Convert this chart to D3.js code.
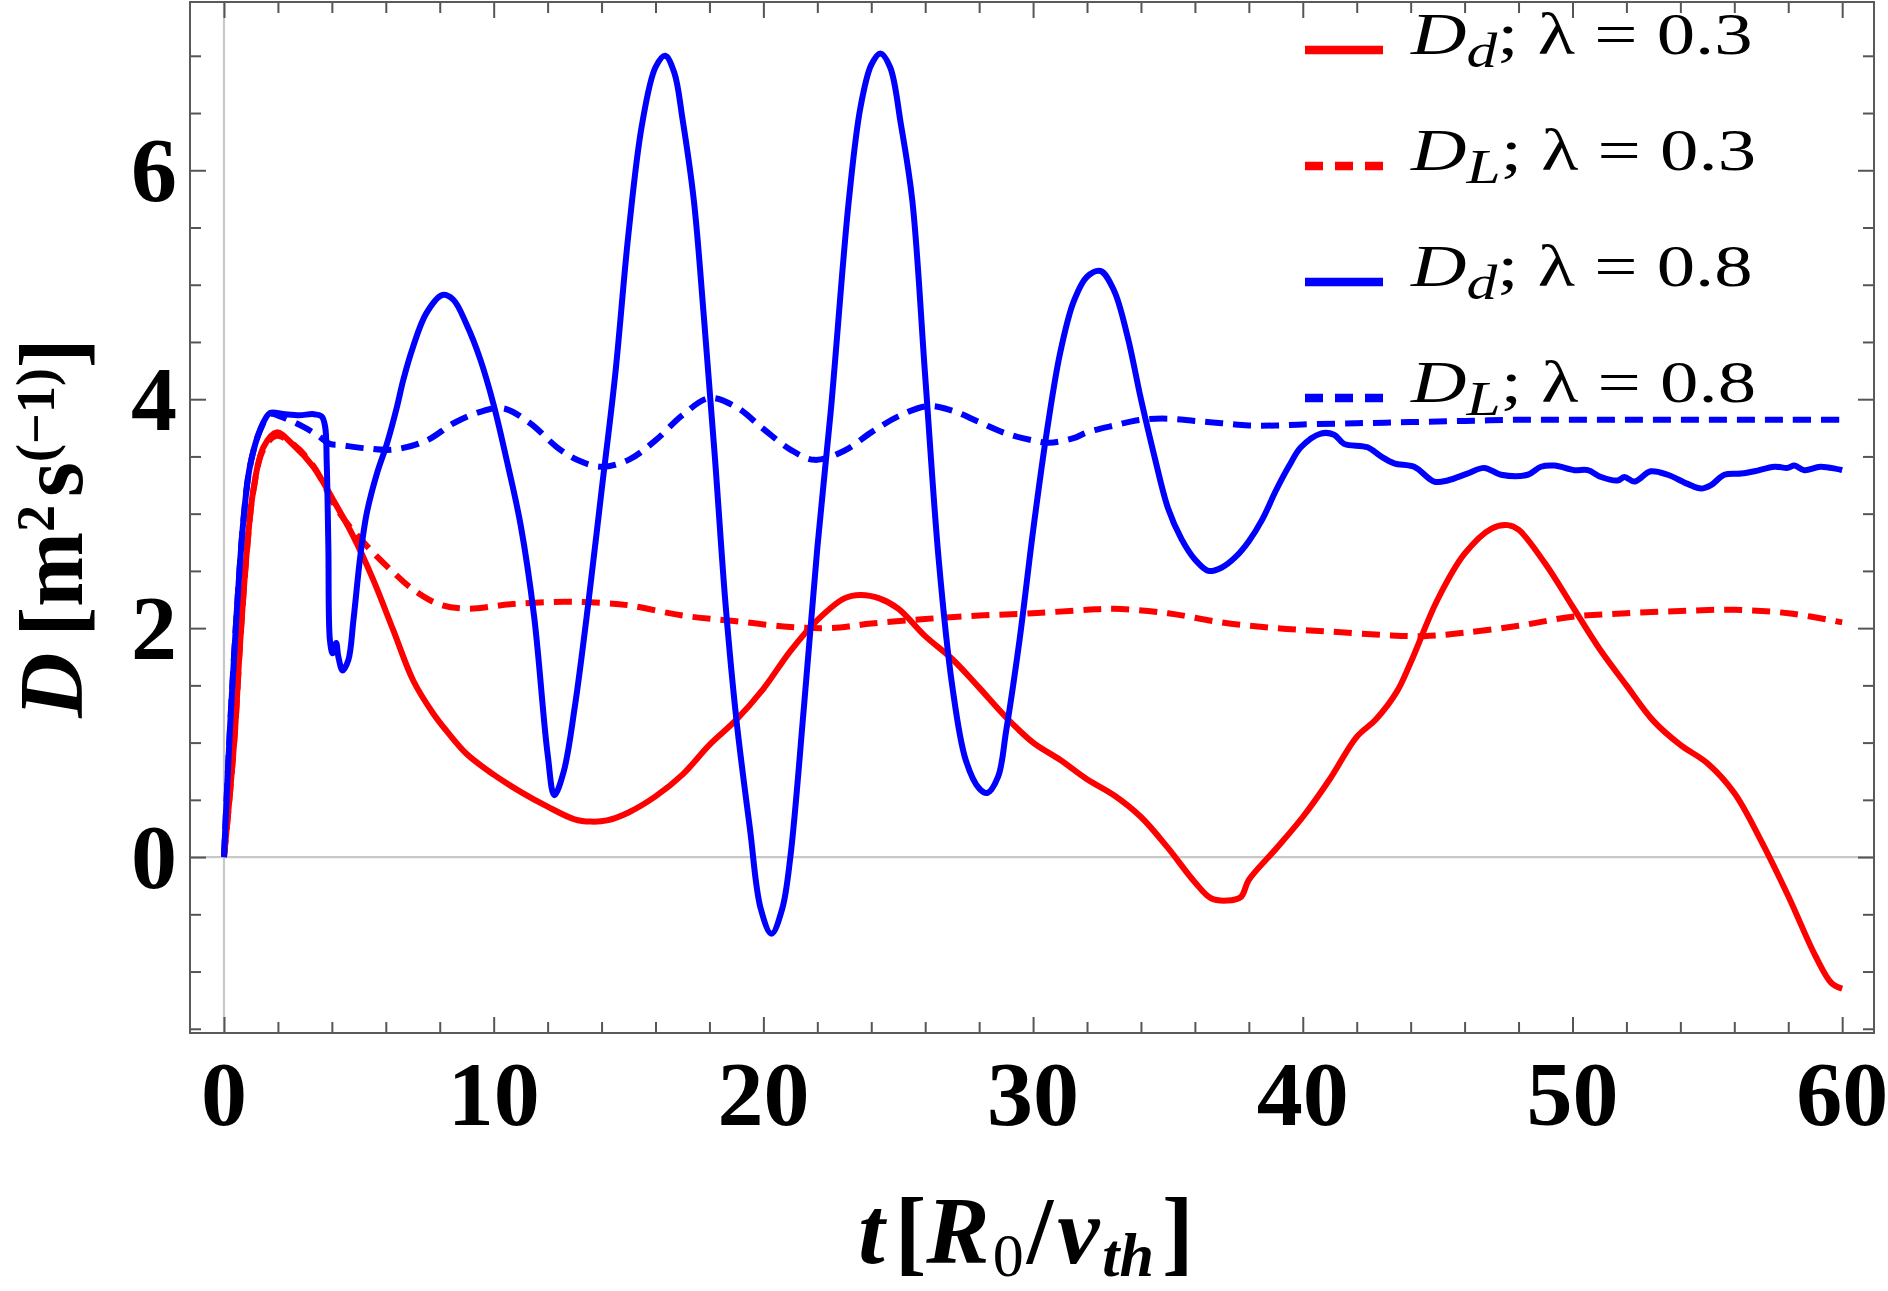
<!DOCTYPE html>
<html>
<head>
<meta charset="utf-8">
<script src="https://cdn.jsdelivr.net/npm/d3@7"></script>
<style>
  body { margin: 0; background: #fff; }
  svg { display: block; }
</style>
</head>
<body>
<svg id="chart" width="1888" height="1291"></svg>
<script>
// D_d, lambda = 0.3  [t, D]
const dd03 = [[0,0],[0.2,0.5],[0.41,1.11],[0.59,1.84],[0.84,2.65],[1.09,3.21],[1.46,3.58],[1.95,3.71],[2.57,3.6],[3.31,3.41],[4.05,3.12],[4.8,2.8],[5.54,2.42],[6.28,1.98],[7.02,1.54],[7.77,1.25],[8.26,1.1],[9,0.9],[10,0.72],[11,0.57],[12,0.44],[13,0.33],[13.6,0.31],[14.2,0.32],[15,0.39],[16,0.53],[17,0.72],[18,0.98],[19,1.2],[20,1.47],[21,1.8],[22,2.07],[23,2.26],[23.6,2.29],[24.3,2.26],[25,2.17],[26,1.93],[27,1.73],[28,1.48],[29,1.22],[30,1.0],[31,0.85],[32,0.68],[33,0.54],[34,0.35],[35,0.08],[36,-0.22],[36.6,-0.36],[37.2,-0.38],[37.7,-0.35],[38,-0.2],[39,0.07],[40,0.35],[41,0.68],[42,1.05],[42.7,1.2],[43.5,1.45],[44,1.7],[45,2.25],[46,2.65],[47,2.87],[47.6,2.9],[48,2.86],[49,2.56],[50,2.19],[51,1.82],[52,1.5],[53,1.19],[54,0.98],[55,0.82],[56,0.56],[57,0.14],[58,-0.34],[59,-0.86],[59.6,-1.1],[60,-1.15]];

// D_L, lambda = 0.3
const dl03 = [[0,0],[0.2,0.5],[0.41,1.11],[0.59,1.84],[0.84,2.65],[1.09,3.2],[1.46,3.56],[1.95,3.68],[2.6,3.6],[3.3,3.42],[4.3,3.0],[5.29,2.72],[6.27,2.49],[7.0,2.34],[7.96,2.21],[9.0,2.17],[10.7,2.21],[12.6,2.23],[14,2.22],[15,2.2],[17,2.11],[19,2.06],[21,2.01],[22.5,2.0],[24,2.04],[26,2.08],[28,2.11],[30,2.13],[32,2.16],[33,2.17],[35,2.13],[37,2.05],[39,2.0],[41,1.97],[43,1.94],[44.5,1.93],[46,1.96],[48,2.02],[50,2.1],[52,2.13],[54,2.15],[56,2.16],[58,2.13],[60,2.05]];

// D_d, lambda = 0.8
const dd08 = [[0,0],[0.22,1.11],[0.47,2.13],[0.72,2.94],[0.96,3.41],[1.34,3.73],[1.71,3.88],[2.2,3.87],[2.8,3.86],[3.3,3.87],[3.62,3.85],[3.75,3.76],[3.81,3.44],[3.87,2.71],[3.93,1.89],[4.03,1.78],[4.16,1.87],[4.24,1.75],[4.4,1.63],[4.61,1.72],[4.8,2.07],[5.05,2.62],[5.29,3.0],[5.67,3.35],[6.04,3.61],[6.41,3.93],[6.65,4.17],[7,4.45],[7.5,4.75],[8.1,4.91],[8.5,4.87],[9,4.65],[9.5,4.35],[10,3.95],[10.5,3.45],[11,2.9],[11.5,2.1],[12,0.9],[12.25,0.54],[12.6,0.75],[13,1.3],[13.5,2.2],[14,3.2],[14.5,4.2],[15,5.45],[15.5,6.4],[16,6.9],[16.36,7.0],[16.7,6.85],[17,6.45],[17.42,5.74],[17.8,4.7],[18.2,3.5],[18.6,2.2],[19,1.2],[19.5,0.25],[19.9,-0.45],[20.3,-0.67],[20.7,-0.45],[21,0.0],[21.5,1.3],[22,2.7],[22.5,3.9],[23.17,5.74],[23.6,6.55],[24,6.92],[24.34,7.02],[24.7,6.9],[25.1,6.4],[25.52,5.74],[26,4.2],[26.5,2.6],[27,1.5],[27.5,0.85],[28,0.6],[28.3,0.56],[28.7,0.7],[29,1.1],[29.5,1.9],[30,2.85],[30.5,3.7],[31,4.4],[31.5,4.85],[32,5.07],[32.5,5.12],[33,4.95],[33.5,4.55],[34,4.0],[34.5,3.5],[35,3.05],[35.5,2.78],[36,2.6],[36.5,2.5],[37,2.53],[37.5,2.62],[38,2.76],[38.5,2.95],[39,3.2],[39.5,3.42],[39.93,3.58],[40.67,3.7],[41.16,3.69],[41.53,3.61],[42.4,3.58],[42.9,3.5],[43.39,3.44],[44.13,3.41],[44.87,3.28],[45.37,3.29],[46.1,3.35],[46.73,3.4],[47.35,3.34],[48.34,3.34],[48.83,3.41],[49.33,3.42],[50.07,3.38],[50.57,3.38],[51.06,3.32],[51.68,3.29],[51.93,3.32],[52.3,3.28],[52.9,3.37],[53.53,3.34],[54.27,3.26],[54.77,3.22],[55.14,3.25],[55.63,3.34],[56.25,3.35],[56.75,3.37],[57.49,3.41],[57.98,3.4],[58.23,3.42],[58.6,3.38],[59.2,3.41],[60,3.38]];

// D_L, lambda = 0.8
const dl08 = [[0,0],[0.22,1.11],[0.47,2.13],[0.72,2.94],[0.96,3.41],[1.34,3.73],[1.71,3.87],[2.08,3.85],[2.93,3.76],[3.44,3.69],[3.93,3.61],[4.3,3.6],[5.29,3.57],[6.28,3.56],[7.52,3.64],[8.51,3.79],[9.5,3.89],[10.36,3.92],[11.35,3.79],[12.35,3.58],[13.09,3.47],[14,3.41],[15,3.47],[16,3.64],[17,3.86],[18,4.01],[19,3.93],[20,3.74],[21,3.56],[21.9,3.47],[23,3.55],[24,3.71],[25,3.85],[26.1,3.94],[27,3.9],[28,3.8],[29,3.7],[30,3.64],[30.6,3.62],[31.5,3.66],[32,3.71],[33,3.77],[34,3.82],[35,3.83],[36,3.81],[37,3.79],[38,3.77],[39,3.77],[40,3.78],[42,3.79],[44,3.8],[46,3.81],[48,3.82],[50,3.82],[52,3.82],[54,3.82],[56,3.82],[58,3.82],[60,3.82]];

const xTicks = [0, 10, 20, 30, 40, 50, 60];
const yTicks = [0, 2, 4, 6];
const legendSub = ['d', 'L', 'd', 'L'];
const legendLambda = ['0.3', '0.3', '0.8', '0.8'];

const serif = '"Liberation Serif", "Times New Roman", serif';
const frame = { left: 190, right: 1874, top: 2, bottom: 1033 };

const svg = d3.select('#chart');

const x = d3.scaleLinear().domain([-1.26, 61.18]).range([frame.left, frame.right]);
const y = d3.scaleLinear().domain([-1.537, 7.47]).range([frame.bottom, frame.top]);

const xMinor = d3.range(2, 60, 2).filter((d) => d % 10 !== 0);
const yMinor = d3.range(-1.5, 7.01, 0.5).filter((d) => d % 2 !== 0);

svg.append('defs')
  .append('clipPath')
  .attr('id', 'plotClip')
  .append('rect')
  .attr('x', frame.left)
  .attr('y', frame.top)
  .attr('width', frame.right - frame.left)
  .attr('height', frame.bottom - frame.top);

// zero axes (light gray)
svg.append('line')
  .attr('x1', x(0)).attr('x2', x(0))
  .attr('y1', frame.top).attr('y2', frame.bottom)
  .attr('stroke', '#c8c8c8').attr('stroke-width', 2.2);
svg.append('line')
  .attr('x1', frame.left).attr('x2', frame.right)
  .attr('y1', y(0)).attr('y2', y(0))
  .attr('stroke', '#c8c8c8').attr('stroke-width', 2.2);

// frame ticks (pointing inward)
const tickColor = '#555';
function styleAxis(g) {
  g.select('.domain').remove();
  g.selectAll('.tick line').attr('stroke', tickColor).attr('stroke-width', 2);
  g.selectAll('.tick text').remove();
}

svg.append('g').attr('transform', `translate(0,${frame.bottom})`)
  .call(d3.axisBottom(x).tickValues(xTicks).tickSize(-16)).call(styleAxis);
svg.append('g').attr('transform', `translate(0,${frame.bottom})`)
  .call(d3.axisBottom(x).tickValues(xMinor).tickSize(-11)).call(styleAxis);
svg.append('g').attr('transform', `translate(0,${frame.top})`)
  .call(d3.axisTop(x).tickValues(xTicks).tickSize(-16)).call(styleAxis);
svg.append('g').attr('transform', `translate(0,${frame.top})`)
  .call(d3.axisTop(x).tickValues(xMinor).tickSize(-11)).call(styleAxis);
svg.append('g').attr('transform', `translate(${frame.left},0)`)
  .call(d3.axisLeft(y).tickValues(yTicks).tickSize(-16)).call(styleAxis);
svg.append('g').attr('transform', `translate(${frame.left},0)`)
  .call(d3.axisLeft(y).tickValues(yMinor).tickSize(-11)).call(styleAxis);
svg.append('g').attr('transform', `translate(${frame.right},0)`)
  .call(d3.axisRight(y).tickValues(yTicks).tickSize(-16)).call(styleAxis);
svg.append('g').attr('transform', `translate(${frame.right},0)`)
  .call(d3.axisRight(y).tickValues(yMinor).tickSize(-11)).call(styleAxis);

svg.append('rect')
  .attr('x', frame.left).attr('y', frame.top)
  .attr('width', frame.right - frame.left)
  .attr('height', frame.bottom - frame.top)
  .attr('fill', 'none')
  .attr('stroke', '#5a5a5a')
  .attr('stroke-width', 2);

// tick labels
svg.append('g')
  .selectAll('text')
  .data(xTicks)
  .join('text')
  .attr('x', (d) => x(d))
  .attr('y', 1125)
  .attr('text-anchor', 'middle')
  .attr('font-family', serif)
  .attr('font-weight', 'bold')
  .attr('font-size', 92)
  .text((d) => d);

svg.append('g')
  .selectAll('text')
  .data(yTicks)
  .join('text')
  .attr('x', 177)
  .attr('y', (d) => y(d) + 31)
  .attr('text-anchor', 'end')
  .attr('font-family', serif)
  .attr('font-weight', 'bold')
  .attr('font-size', 92)
  .text((d) => d);

// curves
const line = d3.line()
  .x((d) => x(d[0]))
  .y((d) => y(d[1]))
  .curve(d3.curveCatmullRom.alpha(0.5));

const series = [
  { data: dd03, color: '#ff0000', dash: null },
  { data: dl03, color: '#ff0000', dash: '18,10' },
  { data: dd08, color: '#0000ff', dash: null },
  { data: dl08, color: '#0000ff', dash: '18,10' },
];

const plot = svg.append('g').attr('clip-path', 'url(#plotClip)');
// dashed first, solid on top
[1, 3, 0, 2].forEach((i) => {
  const s = series[i];
  plot.append('path')
    .datum(s.data)
    .attr('d', line)
    .attr('fill', 'none')
    .attr('stroke', s.color)
    .attr('stroke-width', 6)
    .attr('stroke-linejoin', 'round')
    .attr('stroke-dasharray', s.dash);
});

// legend
const legendY = [50, 166, 282, 398];
const legend = svg.append('g');
series.forEach((s, i) => {
  const ly = legendY[i];
  legend.append('line')
    .attr('x1', 1305).attr('x2', 1383)
    .attr('y1', ly).attr('y2', ly)
    .attr('stroke', s.color)
    .attr('stroke-width', 8.5)
    .attr('stroke-dasharray', s.dash ? '18,12' : null);

  const t = legend.append('text')
    .attr('transform', `translate(1411,${ly + 4}) scale(1.28,1)`)
    .attr('font-family', serif)
    .attr('font-size', 60);
  t.append('tspan').attr('font-style', 'italic').text('D');
  t.append('tspan').attr('font-style', 'italic').attr('font-size', 48)
    .attr('dy', 13).text(legendSub[i]);
  t.append('tspan').attr('dy', -13).text('; \u03bb = ' + legendLambda[i]);
});

// axis titles
const yt = svg.append('text')
  .attr('transform', 'translate(82,528) rotate(-90)')
  .attr('text-anchor', 'middle')
  .attr('font-family', serif)
  .attr('font-weight', 'bold')
  .attr('font-size', 90);
yt.append('tspan').attr('font-style', 'italic').text('D');
yt.append('tspan').attr('dx', 16).text('[m');
yt.append('tspan').attr('font-size', 54).attr('dy', -28).text('2');
yt.append('tspan').attr('dx', 8).attr('dy', 28).text('s');
yt.append('tspan').attr('font-size', 54).attr('dy', -28).text('(\u22121)');
yt.append('tspan').attr('dy', 28).text(']');

const xt = svg.append('text')
  .attr('x', 1026)
  .attr('y', 1263)
  .attr('text-anchor', 'middle')
  .attr('font-family', serif)
  .attr('font-weight', 'bold')
  .attr('font-size', 95);
xt.append('tspan').attr('font-style', 'italic').text('t');
xt.append('tspan').attr('dx', 10).text('[');
xt.append('tspan').attr('font-style', 'italic').text('R');
xt.append('tspan').attr('font-size', 62).attr('font-weight', 'normal').attr('dx', 3).attr('dy', 13).text('0');
xt.append('tspan').attr('dx', 3).attr('dy', -13).text('/');
xt.append('tspan').attr('font-style', 'italic').attr('dx', 4).text('v');
xt.append('tspan').attr('font-style', 'italic').attr('font-size', 62).attr('dx', 3).attr('dy', 13).text('th');
xt.append('tspan').attr('dx', 8).attr('dy', -13).text(']');
</script>
</body>
</html>
